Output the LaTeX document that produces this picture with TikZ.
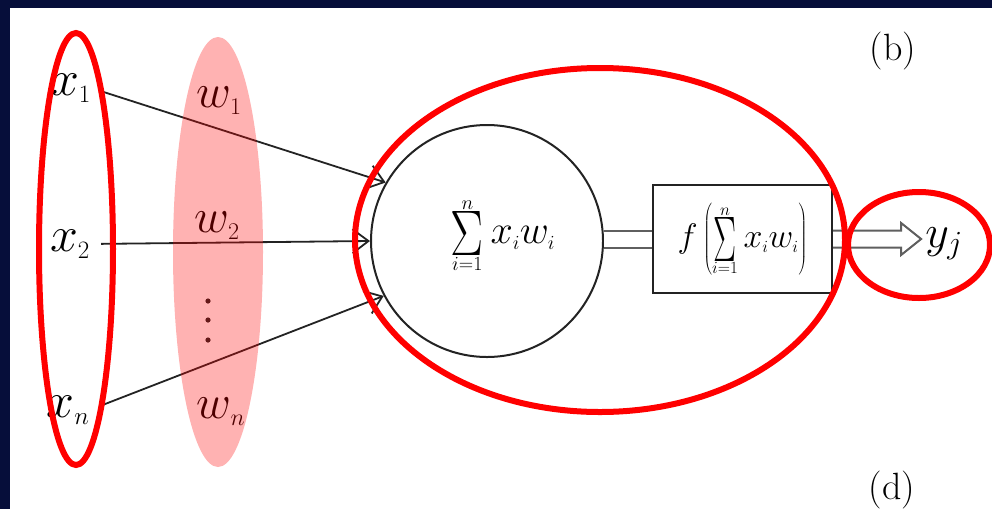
\RequirePackage{fix-cm}
\documentclass[tikz,border=0pt]{standalone}
\usepackage{graphicx}
\usetikzlibrary{arrows.meta,calc}
\definecolor{bgblue}{RGB}{6,14,58}
\definecolor{ink}{RGB}{35,35,35}
\definecolor{pipe}{RGB}{95,95,95}
\newcommand\neuronsum[2]{\mathop{\vcenter{\hbox{\resizebox*{#1}{#2}{$\Sigma$}}}}\limits}
\begin{document}
\begin{tikzpicture}[x=1pt,y=-1pt,
  xlab/.style={inner sep=0pt, anchor=base, font=\fontsize{50}{60}\selectfont},
  wlab/.style={inner sep=0pt, anchor=base, font=\fontsize{48}{58}\selectfont},
  expr/.style={inner sep=0pt, font=\fontsize{40}{48}\selectfont},
  feed/.style={draw=ink, line width=1.8pt, shorten <=11pt, -{Straight Barb[length=16pt,width=24pt]}},
  pipeline/.style={draw=pipe, line width=2pt, double=white, double distance=15pt},
  ring/.style={draw=red, line width=6pt},
  tag/.style={inner sep=0pt, font=\fontsize{38}{46}\selectfont}]
\useasboundingbox (0,0) rectangle (992,509);
\fill[bgblue] (0,0) rectangle (992,509);
\fill[white] (10,8) rectangle (992,509);

% input labels
\node[xlab] (x1) at (71,95) {$x_{\scriptscriptstyle 1}$};
\node[xlab] (x2) at (70,251) {$x_{\scriptscriptstyle 2}$};
\node[xlab] (xn) at (68,417) {$x_{\scriptscriptstyle n}$};

% weight labels
\node[wlab] (w1) at (219,107) {$w_{\scriptscriptstyle 1}$};
\node[wlab] (w2) at (217,232) {$w_{\scriptscriptstyle 2}$};
\node[wlab] (wn) at (221,418) {$w_{\scriptscriptstyle n}$};
\fill[ink] (208,301) circle (2.6);
\fill[ink] (208,320) circle (2.6);
\fill[ink] (208,340) circle (2.6);

% summation circle
\node[circle, draw=ink, line width=2pt, minimum size=232pt, inner sep=0pt] (sum) at (487,241) {};
\node[expr] (sumtext) at (503,236) {$\neuronsum{33pt}{44pt}_{\scriptscriptstyle i=1}^{\scriptscriptstyle n}x_{\scriptscriptstyle i}w_{\scriptscriptstyle i}$};

% activation box
\node[draw=ink, line width=2.2pt, minimum width=179pt, minimum height=108pt, inner sep=0pt,
      font=\fontsize{34}{42}\selectfont] (box) at (742.5,239)
  {$f\left(\neuronsum{23pt}{44pt}_{\scriptscriptstyle i=1}^{\scriptscriptstyle n}x_{\scriptscriptstyle i}w_{\scriptscriptstyle i}\right)$};

% output
\node[inner sep=0pt, anchor=base, font=\fontsize{46}{55}\selectfont] (yj) at (944,247) {$y_j$};

% connectors
\draw[feed] (x1.east) -- (sum.150);
\draw[feed] (x2.east) -- (sum.180);
\draw[feed] (xn.east) -- (sum.208);
\draw[pipeline] (sum.east |- box.west) -- (box.west);
\coordinate (tip) at ($(box.east)+(88,0)$);
\draw[draw=pipe, line width=2pt, line join=miter]
  ($(box.east)+(0,-8.5)$) -- ($(tip)+(-20,-8.5)$) -- ($(tip)+(-20,-16)$) -- (tip)
  -- ($(tip)+(-20,16)$) -- ($(tip)+(-20,8.5)$) -- ($(box.east)+(0,8.5)$);

% tags
\node[tag] (tb) at (893,51) {(b)};
\node[tag] (td) at (892,490) {(d)};

% highlights
\fill[red, fill opacity=0.3] (218,252) ellipse [x radius=45, y radius=215];
\draw[ring] (76,249) ellipse [x radius=37, y radius=216];
\draw[ring] (600,240) ellipse [x radius=245, y radius=172];
\draw[ring] (919,245) ellipse [x radius=71, y radius=53];
\end{tikzpicture}
\end{document}
